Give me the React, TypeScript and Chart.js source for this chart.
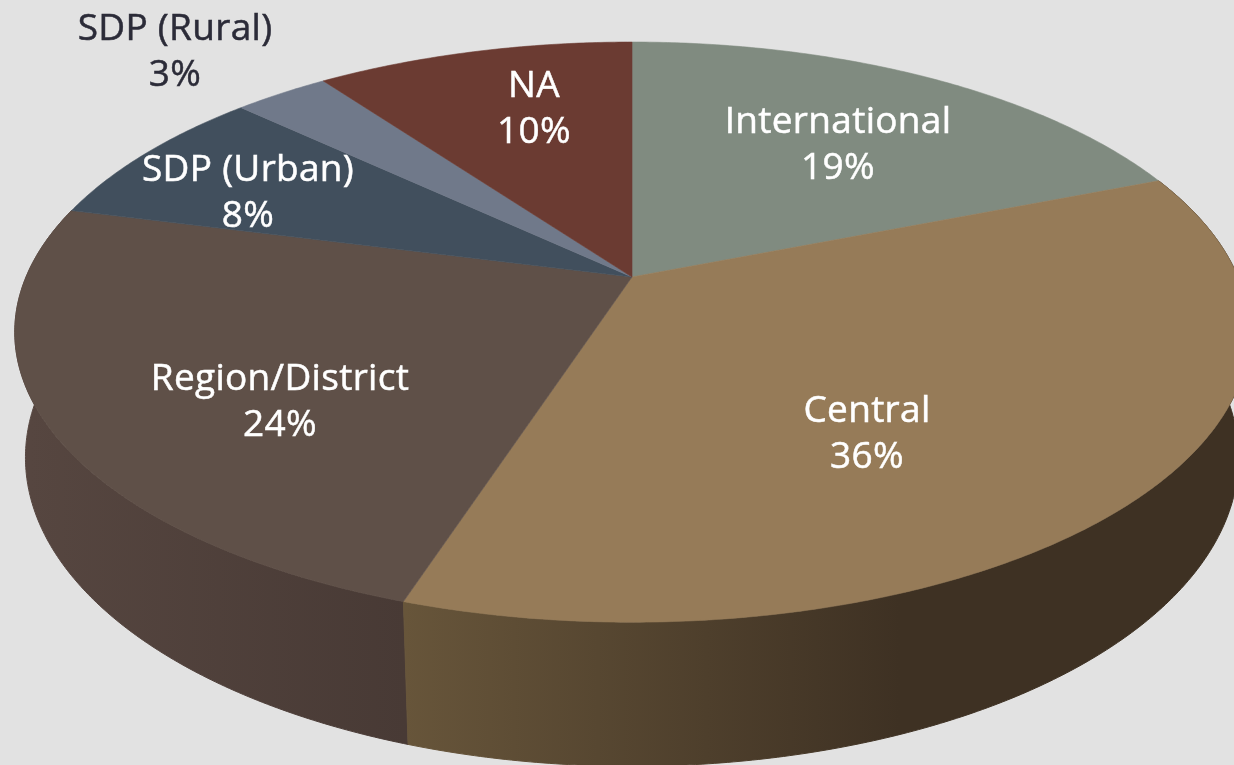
import React, { useEffect, useRef } from "react";
import { Chart, registerables } from "chart.js";

Chart.register(...registerables);

const categories = ["International", "Central", "Region/District", "SDP (Urban)", "SDP (Rural)", "NA"];
const shares = [19, 36, 24, 8, 3, 10];
const faceColors = ["#808b80", "#967b58", "#5f5048", "#414f5d", "#70798a", "#6b3b32"];
const labelColors = ["#ffffff", "#ffffff", "#ffffff", "#ffffff", "#2b2b38", "#ffffff"];
// Centre of each two-line text block.
const labelCentres = [
  [838, 145],
  [867, 434],
  [280, 402],
  [248, 193],
  [175, 52],
  [534, 109],
];
// Wall shading: x-range and colour stops per category (only the visible walls).
const wallShades: Record<number, { x0: number; x1: number; c0: string; c1: string }> = {
  1: { x0: 405, x1: 900, c0: "#67553a", c1: "#3e3123" },
  2: { x0: 30, x1: 405, c0: "#564640", c1: "#483a35" },
};

const APEX_X = 632;
const APEX_Y = 277;
const RX = 606;
const RY = 279.6;
const PERSP = -0.19;
const DEPTH_Y = 125;
const DEPTH_W = 0.017;

function project(angle: number, r: number, z: number) {
  const th = angle + Math.PI / 2;
  const u = r * Math.sin(th);
  const v = -r * Math.cos(th);
  const w = 1 + PERSP * v + DEPTH_W * z;
  return { x: APEX_X + (RX * u) / w, y: APEX_Y + (RY * v + DEPTH_Y * z) / w };
}

const pseudo3d = {
  id: "pseudo3d",
  beforeDatasetDraw(chart: any) {
    const ctx: CanvasRenderingContext2D = chart.ctx;
    const arcs: any[] = chart.getDatasetMeta(0).data;
    const STEP = Math.PI / 360;
    ctx.save();
    // side walls, far to near
    [2, 1].forEach((i) => {
      const a = arcs[i];
      const shade = wallShades[i];
      ctx.beginPath();
      for (let t = a.startAngle; t < a.endAngle; t += STEP) {
        const p = project(t, 1, 0);
        ctx.lineTo(p.x, p.y);
      }
      const topEnd = project(a.endAngle, 1, 0);
      const botEnd = project(a.endAngle, 1, 1);
      ctx.lineTo(topEnd.x, topEnd.y);
      ctx.lineTo(botEnd.x, botEnd.y);
      for (let t = a.endAngle; t > a.startAngle; t -= STEP) {
        const p = project(t, 1, 1);
        ctx.lineTo(p.x, p.y);
      }
      const e = project(a.startAngle, 1, 1);
      ctx.lineTo(e.x, e.y);
      ctx.closePath();
      const g = ctx.createLinearGradient(shade.x0, 0, shade.x1, 0);
      g.addColorStop(0, shade.c0);
      g.addColorStop(1, shade.c1);
      ctx.fillStyle = g;
      ctx.strokeStyle = g;
      ctx.lineWidth = 1;
      ctx.fill();
      ctx.stroke();
    });
    // top faces
    arcs.forEach((a) => {
      ctx.beginPath();
      ctx.moveTo(APEX_X, APEX_Y);
      for (let t = a.startAngle; t < a.endAngle; t += STEP) {
        const p = project(t, 1, 0);
        ctx.lineTo(p.x, p.y);
      }
      const e = project(a.endAngle, 1, 0);
      ctx.lineTo(e.x, e.y);
      ctx.closePath();
      ctx.fillStyle = a.options.backgroundColor;
      ctx.strokeStyle = a.options.backgroundColor;
      ctx.lineWidth = 0.6;
      ctx.fill();
      ctx.stroke();
    });
    ctx.restore();
    return false;
  },
  afterDatasetsDraw(chart: any) {
    const ctx: CanvasRenderingContext2D = chart.ctx;
    const labels: string[] = chart.data.labels;
    const values: number[] = chart.data.datasets[0].data;
    ctx.save();
    ctx.font = '500 37px "Open Sans"';
    (ctx as any).letterSpacing = "0.3px";
    ctx.textAlign = "center";
    ctx.textBaseline = "middle";
    labels.forEach((label, i) => {
      const [cx, cy] = labelCentres[i];
      ctx.fillStyle = labelColors[i];
      ctx.strokeStyle = labelColors[i];
      ctx.lineWidth = 0.5;
      ctx.fillText(label, cx, cy - 23);
      ctx.strokeText(label, cx, cy - 23);
      ctx.fillText(`${values[i]}%`, cx, cy + 23);
      ctx.strokeText(`${values[i]}%`, cx, cy + 23);
    });
    ctx.restore();
  },
};

export default function App() {
  const ref = useRef<HTMLCanvasElement>(null);
  useEffect(() => {
    const chart = new Chart(ref.current!, {
      type: "pie",
      data: {
        labels: categories,
        datasets: [{ data: shares, backgroundColor: faceColors, borderWidth: 0 }],
      },
      options: {
        animation: false,
        responsive: false,
        plugins: { legend: { display: false }, tooltip: { enabled: false } },
      },
      plugins: [pseudo3d],
    } as any);
    return () => chart.destroy();
  }, []);
  return (
    <div style={{ position: "fixed", left: 0, top: 0, width: 1234, height: 765, background: "#e2e2e2", overflow: "hidden" }}>
      <canvas ref={ref} width={1234} height={765} style={{ display: "block" }} />
    </div>
  );
}
